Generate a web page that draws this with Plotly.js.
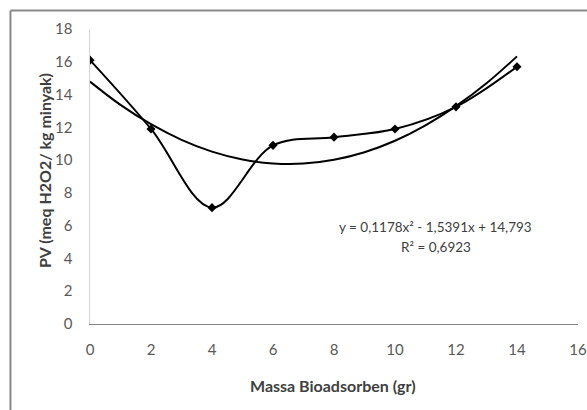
<!DOCTYPE html>
<html>
<head>
<meta charset="utf-8">
<script src="https://cdn.plot.ly/plotly-3.0.1.min.js"></script>
<style>html,body{margin:0;padding:0;background:#fff;overflow:hidden;}#chart{width:587px;height:410px;}</style>
</head>
<body>
<div id="chart"></div>
<script>
// Data
const massa = [0, 2, 4, 6, 8, 10, 12, 14];
const pv = [16.1, 11.9, 7.1, 10.9, 11.4, 11.9, 13.25, 15.7];
// Polynomial trendline values (as drawn)
const trendX = [0, 1, 2, 3, 4, 5, 6, 7, 8, 9, 10, 11, 12, 13, 14];
const trendY = [14.79, 13.37, 12.19, 11.24, 10.52, 10.04, 9.80, 9.79, 10.02, 10.48, 11.18, 12.12, 13.29, 14.69, 16.33];
const eqLabel = "y = 0,1178x² - 1,5391x + 14,793";
const r2Label = "R² = 0,6923";
const xTitle = "Massa Bioadsorben (gr)";
const yTitle = "PV (meq H2O2/ kg minyak)";

const FONT = "Lato, 'Open Sans', sans-serif";

const traces = [
  {
    x: trendX, y: trendY, type: 'scatter', mode: 'lines',
    line: {color: '#000', width: 2, shape: 'spline', smoothing: 1},
    hoverinfo: 'skip', showlegend: false
  },
  {
    x: massa, y: pv, type: 'scatter', mode: 'lines+markers',
    line: {color: '#000', width: 2, shape: 'spline', smoothing: 1},
    marker: {symbol: 'diamond', size: 7, color: '#000'},
    showlegend: false
  }
];

const layout = {
  width: 587, height: 410,
  margin: {l: 90, r: 9, t: 29, b: 86, pad: 0},
  paper_bgcolor: '#fff', plot_bgcolor: '#fff',
  font: {family: FONT, size: 15, color: '#595959'},
  showlegend: false,
  xaxis: {
    range: [0, 16], dtick: 2, tick0: 0, showgrid: false, zeroline: false,
    showline: true, linecolor: '#868686', linewidth: 1,
    ticks: '', ticklabelstandoff: 12, fixedrange: true,
    tickfont: {family: FONT, size: 15, color: '#595959'}
  },
  yaxis: {
    range: [0, 18], dtick: 2, tick0: 0, showgrid: false, zeroline: false,
    showline: true, linecolor: '#d4d4d4', linewidth: 1.5,
    ticks: '', ticklabelstandoff: 13, fixedrange: true,
    tickfont: {family: FONT, size: 15, color: '#595959'}
  },
  annotations: [
    {xref: 'x', yref: 'y', x: 11.34, y: 5.92, text: eqLabel, showarrow: false,
     font: {family: FONT, size: 13.5, color: '#404040'}, xanchor: 'center', yanchor: 'middle'},
    {xref: 'x', yref: 'y', x: 11.34, y: 4.70, text: r2Label, showarrow: false,
     font: {family: FONT, size: 13.5, color: '#404040'}, xanchor: 'center', yanchor: 'middle'},
    {xref: 'paper', yref: 'paper', x: 0.498, y: -0.207, text: '<b>' + xTitle + '</b>', showarrow: false,
     font: {family: FONT, size: 16, color: '#404040'}, xanchor: 'center', yanchor: 'middle'},
    {xref: 'paper', yref: 'paper', x: -0.0943, y: 0.522, text: '<b>' + yTitle + '</b>', showarrow: false,
     textangle: -90, font: {family: FONT, size: 16, color: '#404040'}, xanchor: 'center', yanchor: 'middle'}
  ],
  shapes: [
    {type: 'line', xref: 'paper', yref: 'paper', x0: -0.163, x1: 1.03, y0: 1.0627, y1: 1.0627,
     line: {color: '#898989', width: 2}},
    {type: 'line', xref: 'paper', yref: 'paper', x0: -0.163, x1: -0.163, y0: -0.3, y1: 1.0627,
     line: {color: '#898989', width: 2}}
  ]
};

Plotly.newPlot('chart', traces, layout, {displayModeBar: false, staticPlot: true});
</script>
</body>
</html>
